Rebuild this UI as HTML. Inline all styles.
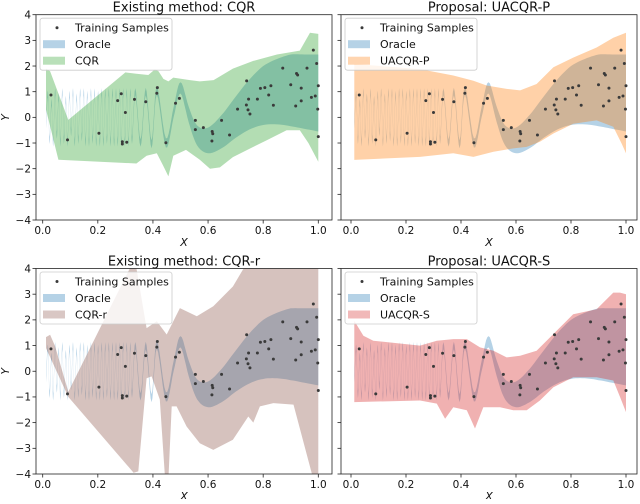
<!DOCTYPE html>
<html><head><meta charset="utf-8"><style>
body{margin:0;background:#fff}
svg text{font-family:"DejaVu Sans","Liberation Sans",sans-serif;fill:#111}
</style></head><body>
<svg id="fig" width="640" height="499" viewBox="0 0 640 499" xmlns="http://www.w3.org/2000/svg"></svg>
<script>
// ---- data ----
const sampleX=[0.030,0.090,0.204,0.272,0.285,0.289,0.289,0.300,0.305,0.333,0.374,0.414,0.416,0.447,0.482,0.496,0.554,0.554,0.583,0.615,0.617,0.614,0.649,0.678,0.707,0.739,0.745,0.752,0.740,0.747,0.790,0.806,0.779,0.820,0.828,0.837,0.871,0.900,0.918,0.921,0.925,0.938,0.938,0.959,0.975,0.982,0.989,0.994,0.998,1.0,1.0];
const sampleY=[0.87,-0.88,-0.62,0.65,0.92,-0.95,-1.04,0.19,-0.97,0.70,0.61,0.94,1.16,-0.99,0.55,0.74,-0.12,-0.48,-0.40,-0.55,-0.64,-0.92,-0.12,-0.69,0.32,0.48,0.29,0.13,1.42,0.71,1.13,1.16,0.71,0.87,1.23,0.47,1.92,1.27,0.44,1.71,1.65,1.14,0.64,1.92,0.78,2.62,0.83,2.10,0.32,1.23,-0.75];
const oracleX=[0.012,0.019,0.025,0.032,0.038,0.045,0.051,0.058,0.064,0.071,0.077,0.084,0.090,0.097,0.103,0.110,0.116,0.123,0.129,0.136,0.142,0.149,0.155,0.162,0.168,0.175,0.181,0.188,0.194,0.201,0.207,0.214,0.220,0.227,0.233,0.240,0.246,0.253,0.259,0.266,0.272,0.279,0.285,0.292,0.298,0.305,0.311,0.318,0.324,0.336,0.355,0.374,0.395,0.414,0.447,0.475,0.50,0.53,0.56,0.60,0.65,0.70,0.75,0.80,0.85,0.90,0.95,1.0];
const oracleY=[-0.3,0.9,-0.9,0.6,-1.0,1.0,-0.7,0.8,-1.0,1.0,-0.9,0.7,-1.0,0.9,-0.6,1.0,-1.0,0.8,-0.9,1.0,-0.8,1.0,-1.0,0.9,-1.0,1.0,-0.9,1.0,-1.0,0.9,-1.0,1.0,-1.0,1.0,-0.9,1.0,-1.0,1.0,-1.0,1.0,-1.0,1.0,-1.0,1.0,-1.0,1.0,-1.0,1.0,-0.9,1.0,-1.0,1.0,-1.05,1.05,-1.0,0.2,1.15,0.1,-0.7,-0.9,-0.55,0.0,0.5,0.85,1.0,1.05,1.0,0.95];
const oracleHalfX=[0,0.35,0.45,0.5,0.6,0.7,0.8,0.9,1.0];
const oracleHalf=[0.14,0.14,0.18,0.22,0.5,0.8,1.15,1.4,1.5];

const cqrUpX=[0.012,0.027,0.093,0.30,0.34,0.383,0.407,0.42,0.438,0.456,0.474,0.504,0.534,0.57,0.62,0.69,0.764,0.85,0.933,0.97,1.0];
const cqrUpY=[1.9,1.8,-0.1,1.75,1.7,1.65,1.87,1.8,1.5,1.4,1.55,1.5,1.45,1.4,1.45,1.9,2.2,2.45,2.6,3.3,3.25];
const cqrLoX=[0.012,0.057,0.34,0.377,0.414,0.438,0.456,0.474,0.52,0.57,0.607,0.643,0.69,0.764,0.812,0.885,0.933,0.964,1.0];
const cqrLoY=[0.3,-1.65,-1.8,-1.5,-1.4,-1.9,-2.3,-1.5,-1.27,-1.65,-2.0,-1.95,-1.55,-1.15,-0.9,-0.5,-0.5,-1.0,-1.73];

const cqrrUpX=[0.012,0.027,0.045,0.093,0.325,0.337,0.377,0.414,0.45,0.498,0.559,0.619,0.69,0.74,1.0];
const cqrrUpY=[1.33,1.42,0.97,-0.8,4.2,4.2,1.68,1.95,1.43,2.46,2.14,2.53,3.3,4.2,4.2];
const cqrrLoX=[0.012,0.093,0.33,0.347,0.377,0.395,0.425,0.444,0.456,0.468,0.486,0.522,0.57,0.619,0.69,0.746,0.764,0.788,0.837,0.91,0.982,1.0];
const cqrrLoY=[0.9,-1.0,-3.95,-3.9,-0.27,-0.2,-1.1,-4.2,-4.2,-1.37,-1.37,-2.15,-2.8,-3.06,-2.67,-1.76,-2.0,-1.37,-1.24,-1.3,-4.2,-4.2];

const pUpX=[0.012,0.251,0.372,0.445,0.493,0.566,0.615,0.675,0.736,0.808,0.893,0.954,1.0];
const pUpY=[2.08,1.88,1.63,1.43,1.24,1.11,1.05,1.3,1.95,2.33,2.72,3.1,3.3];
const pLoX=[0.012,0.251,0.372,0.445,0.518,0.590,0.639,0.687,0.736,0.808,0.893,0.954,0.984,1.0];
const pLoY=[-1.66,-1.54,-1.4,-1.54,-1.34,-1.21,-1.15,-0.95,-0.63,-0.25,-0.12,-0.37,-1.02,-1.4];

const sUpX=[0.012,0.045,0.081,0.251,0.312,0.372,0.421,0.469,0.518,0.566,0.615,0.675,0.736,0.808,0.893,0.954,0.978,1.0];
const sUpY=[1.96,1.38,1.19,1.0,1.19,1.25,1.25,0.93,0.8,0.54,0.6,0.8,1.45,2.22,2.41,3.06,3.06,3.0];
const sLoX=[0.012,0.251,0.312,0.342,0.372,0.421,0.451,0.481,0.542,0.590,0.639,0.687,0.736,0.808,0.893,0.954,0.978,1.0];
const sLoY=[-1.2,-1.14,-1.26,-1.85,-1.4,-1.52,-2.23,-1.4,-1.4,-1.52,-1.52,-1.14,-0.62,-0.23,-0.23,-0.36,-1.0,-1.59];

const xTicks=[0,0.2,0.4,0.6,0.8,1.0];
const xTickLabels=["0.0","0.2","0.4","0.6","0.8","1.0"];
const yTicks=[-4,-3,-2,-1,0,1,2,3,4];
const yTickLabels=["\u22124","\u22123","\u22122","\u22121","0","1","2","3","4"];

// ---- drawing ----
const NS="http://www.w3.org/2000/svg";
const svg=document.getElementById('fig');
function el(tag,attrs,parent){const e=document.createElementNS(NS,tag);for(const k in attrs)e.setAttribute(k,attrs[k]);(parent||svg).appendChild(e);return e;}
function interp(xs,ys,x){if(x<=xs[0])return ys[0];for(let i=1;i<xs.length;i++){if(x<=xs[i]){const t=(x-xs[i-1])/(xs[i]-xs[i-1]);return ys[i-1]+t*(ys[i]-ys[i-1]);}}return ys[ys.length-1];}

const panels=[
 {name:'cqr',title:'Existing method: CQR',left:36,right:332,top:14.7,bottom:220,x0:42.7,x1:318.3,label:'CQR',color:'#2ca02c',up:[cqrUpX,cqrUpY],lo:[cqrLoX,cqrLoY],ylab:true},
 {name:'uacqr-p',title:'Proposal: UACQR-P',left:341,right:637,top:14.7,bottom:220,x0:351,x1:626,label:'UACQR-P',color:'#ff7f0e',up:[pUpX,pUpY],lo:[pLoX,pLoY],ylab:false},
 {name:'cqr-r',title:'Existing method: CQR-r',left:36,right:332,top:268.5,bottom:474,x0:42.7,x1:318.3,label:'CQR-r',color:'#8c564b',up:[cqrrUpX,cqrrUpY],lo:[cqrrLoX,cqrrLoY],ylab:true},
 {name:'uacqr-s',title:'Proposal: UACQR-S',left:341,right:637,top:268.5,bottom:474,x0:351,x1:626,label:'UACQR-S',color:'#d62728',up:[sUpX,sUpY],lo:[sLoX,sLoY],ylab:false}
];

panels.forEach((p,pi)=>{
  const g=el('g',{});
  
  
  const sx=x=>p.x0+(p.x1-p.x0)*x;
  const sy=y=>p.bottom-(y+4)/8*(p.bottom-p.top);
  const cid='clip'+pi;
  const cp=el('clipPath',{id:cid},g);
  el('rect',{x:p.left,y:p.top,width:p.right-p.left,height:p.bottom-p.top},cp);
  const plot=el('g',{'clip-path':'url(#'+cid+')'},g);

  const cx=[],cy=[];
  for(let i=0;i<oracleX.length-1;i++){
    const i0=Math.max(0,i-1),i3=Math.min(oracleX.length-1,i+2);
    for(let s=0;s<6;s++){const t=s/6,t2=t*t,t3=t2*t;
      const f=(a,b,c,d)=>0.5*((2*b)+(-a+c)*t+(2*a-5*b+4*c-d)*t2+(-a+3*b-3*c+d)*t3);
      cx.push(f(oracleX[i0],oracleX[i],oracleX[i+1],oracleX[i3]));
      cy.push(f(oracleY[i0],oracleY[i],oracleY[i+1],oracleY[i3]));}
  }
  cx.push(oracleX[oracleX.length-1]);cy.push(oracleY[oracleY.length-1]);
  let pts=[];
  for(let i=0;i<cx.length;i++)pts.push(sx(cx[i]).toFixed(1)+','+sy(cy[i]+interp(oracleHalfX,oracleHalf,cx[i])).toFixed(1));
  for(let i=cx.length-1;i>=0;i--)pts.push(sx(cx[i]).toFixed(1)+','+sy(cy[i]-interp(oracleHalfX,oracleHalf,cx[i])).toFixed(1));
  const ob=el('polygon',{points:pts.join(' '),fill:'#1f77b4','fill-opacity':0.33},plot);
  
  

  pts=[];
  for(let i=0;i<p.up[0].length;i++)pts.push(sx(p.up[0][i]).toFixed(1)+','+sy(p.up[1][i]).toFixed(1));
  for(let i=p.lo[0].length-1;i>=0;i--)pts.push(sx(p.lo[0][i]).toFixed(1)+','+sy(p.lo[1][i]).toFixed(1));
  const mb=el('polygon',{points:pts.join(' '),fill:p.color,'fill-opacity':0.36},plot);
  
  

  for(let i=0;i<sampleX.length;i++){
    const c=el('circle',{cx:sx(sampleX[i]),cy:sy(sampleY[i]),r:1.5,fill:'#3a3a3a'},plot);
    
    
  }

  const fr=el('rect',{x:p.left,y:p.top,width:p.right-p.left,height:p.bottom-p.top,fill:'none',stroke:'#222','stroke-width':0.8},g);
  
  

  xTicks.forEach((v,i)=>{
    el('line',{x1:sx(v),x2:sx(v),y1:p.bottom,y2:p.bottom+3.5,stroke:'#222','stroke-width':0.8},g);
    const t=el('text',{x:sx(v),y:p.bottom+14,'text-anchor':'middle','font-size':10.5},g);
    t.textContent=xTickLabels[i];
    
    
  });
  const xl=el('text',{x:(p.left+p.right)/2,y:p.bottom+26,'text-anchor':'middle','font-size':11,'font-style':'italic'},g);
  xl.textContent='X';
  
  

  yTicks.forEach((v,i)=>{
    el('line',{x1:p.left-3.5,x2:p.left,y1:sy(v),y2:sy(v),stroke:'#222','stroke-width':0.8},g);
    if(p.ylab){
      const t=el('text',{x:p.left-5,y:sy(v)+3.8,'text-anchor':'end','font-size':10.5},g);
      t.textContent=yTickLabels[i];
      
      
    }
  });
  if(p.ylab){
    const yl=el('text',{x:9,y:(p.top+p.bottom)/2,'text-anchor':'middle','font-size':11,'font-style':'italic',transform:'rotate(-90 9 '+((p.top+p.bottom)/2)+')'},g);
    yl.textContent='Y';
    
    
  }

  const tt=el('text',{x:(p.left+p.right)/2,y:p.top-3,'text-anchor':'middle','font-size':13},g);
  tt.textContent=p.title;
  
  

  const lg=el('g',{},g);
  
  
  const lx=p.left+4,ly=p.top+3.5,lw=132,lh=52;
  el('rect',{x:lx,y:ly,width:lw,height:lh,rx:2.5,fill:'#fff','fill-opacity':0.8,stroke:'#ccc','stroke-width':0.8},lg);
  const rows=[['Training Samples',null],['Oracle','#1f77b4'],[p.label,p.color]];
  rows.forEach((r,i)=>{
    const yy=ly+9.5+i*16.5;
    const e=el('g',{},lg);
    
    
    if(r[1]===null)el('circle',{cx:lx+17,cy:yy,r:1.5,fill:'#3a3a3a'},e);
    else el('rect',{x:lx+3,y:yy-4,width:22,height:8,fill:r[1],'fill-opacity':0.33},e);
    const t=el('text',{x:lx+35,y:yy+4,'font-size':11},e);
    t.textContent=r[0];
  });
});
</script>
</body></html>
